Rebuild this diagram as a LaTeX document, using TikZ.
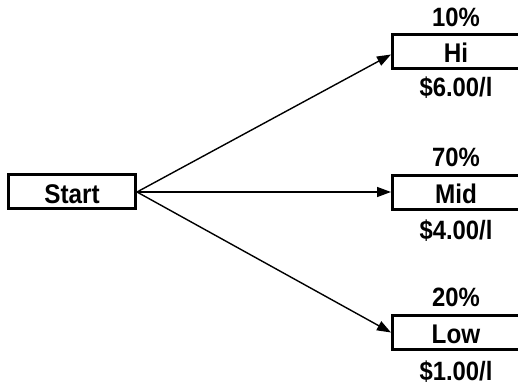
\documentclass[tikz,border=0pt]{standalone}
\usepackage{fontspec}
\setmainfont{Liberation Sans}
\newfontfamily\narrowfont[FakeStretch=0.9]{Liberation Sans}
\usetikzlibrary{arrows.meta}
\begin{document}
\begin{tikzpicture}[x=1pt,y=1pt,
  boxnode/.style={draw=black,line width=3pt,fill=white,inner sep=0pt,
    minimum width=127pt,minimum height=34pt,text height=22.5pt,text depth=0pt,
    font=\narrowfont\fontsize{27}{31}\selectfont\bfseries},
  lbl/.style={inner sep=0pt,anchor=base,font=\narrowfont\fontsize{26.5}{31}\selectfont\bfseries},
  conn/.style={line width=1.4pt,-{Triangle[length=14pt,width=10pt]}}]
\useasboundingbox (0,0) rectangle (518,385);
\node[boxnode] (start) at (72,193) {Start};
\node[boxnode] (hi) at (456,333.5) {Hi};
\node[boxnode] (mid) at (456,192.5) {Mid};
\node[boxnode] (low) at (456,52.5) {Low};
\node[lbl] (hip) at ([yshift=25pt]hi.center) {10\%};
\node[lbl] (hiv) at ([yshift=-45.5pt]hi.center) {\$6.00/l};
\node[lbl] (midp) at ([yshift=25.5pt]mid.center) {70\%};
\node[lbl] (midv) at ([yshift=-47.5pt]mid.center) {\$4.00/l};
\node[lbl] (lowp) at ([yshift=25.5pt]low.center) {20\%};
\node[lbl] (lowv) at ([yshift=-47.5pt]low.center) {\$1.00/l};
\coordinate (s) at (start.east);
\draw[conn] (s) -- ([yshift=-3pt]hi.west);
\draw[conn] (s) -- (mid.west |- s);
\draw[conn] (s) -- (low.west);
\end{tikzpicture}
\end{document}
